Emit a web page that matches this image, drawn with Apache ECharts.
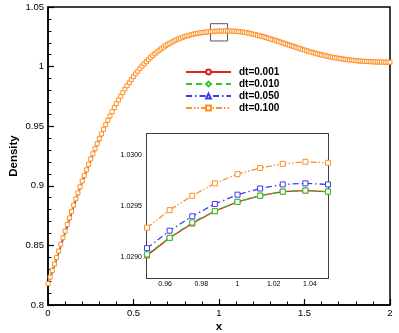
<!DOCTYPE html>
<html>
<head>
<meta charset="utf-8">
<script src="https://cdn.jsdelivr.net/npm/echarts@6.0.0/dist/echarts.min.js"></script>
<style>
  html, body {margin: 0; padding: 0; background: #fff;}
  #chart {width: 399px; height: 333px;}
</style>
</head>
<body>
<div id="chart"></div>
<script>
const names = ['dt=0.001', 'dt=0.010', 'dt=0.050', 'dt=0.100']
const colors = ['#dd2222', '#2ec62e', '#3c3cf0', '#ff8f24']

// dt=0.100 on the fine grid, x = 0 .. 2 step 0.0125 (8 points per row)
const dxFine = 0.0125
const rho100 = [
  0.8180, 0.8234, 0.8289, 0.8343, 0.8398, 0.8453, 0.8509, 0.8564, // 0.0
  0.8620, 0.8675, 0.8730, 0.8784, 0.8838, 0.8890, 0.8941, 0.8991, // 0.1
  0.9040, 0.9087, 0.9134, 0.9180, 0.9225, 0.9268, 0.9311, 0.9353, // 0.2
  0.9395, 0.9435, 0.9474, 0.9512, 0.9550, 0.9586, 0.9621, 0.9656, // 0.3
  0.9690, 0.9721, 0.9752, 0.9782, 0.9812, 0.9839, 0.9865, 0.9891, // 0.4
  0.9916, 0.9939, 0.9961, 0.9983, 1.0004, 1.0023, 1.0041, 1.0059, // 0.5
  1.0077, 1.0093, 1.0108, 1.0123, 1.0137, 1.0150, 1.0163, 1.0175, // 0.6
  1.0186, 1.0196, 1.0206, 1.0215, 1.0224, 1.0232, 1.0239, 1.0246, // 0.7
  1.0252, 1.0258, 1.0263, 1.0268, 1.0272, 1.0276, 1.0279, 1.0282, // 0.8
  1.02852, 1.02875, 1.02896, 1.02914, 1.02929, 1.02946, 1.02960, 1.02972, // 0.9
  1.02981, 1.02987, 1.02991, 1.02993, 1.02992, 1.02986, 1.02978, 1.02970, // 1.0
  1.02960, 1.0294, 1.0292, 1.0290, 1.0287, 1.0284, 1.0280, 1.0276, // 1.1
  1.0272, 1.0268, 1.0263, 1.0259, 1.0254, 1.0249, 1.0244, 1.0238, // 1.2
  1.0233, 1.0227, 1.0222, 1.0216, 1.0210, 1.0204, 1.0198, 1.0192, // 1.3
  1.0186, 1.0180, 1.0174, 1.0168, 1.0162, 1.0156, 1.0150, 1.0145, // 1.4
  1.0139, 1.0133, 1.0128, 1.0122, 1.0117, 1.0112, 1.0107, 1.0103, // 1.5
  1.0098, 1.0094, 1.0090, 1.0086, 1.0082, 1.0079, 1.0075, 1.0072, // 1.6
  1.0069, 1.0066, 1.0063, 1.0061, 1.0058, 1.0056, 1.0054, 1.0052, // 1.7
  1.0050, 1.0048, 1.0047, 1.0045, 1.0044, 1.0043, 1.0042, 1.0041, // 1.8
  1.0040, 1.0039, 1.0039, 1.0038, 1.0038, 1.0037, 1.0037, 1.0037, // 1.9
  1.0037,
]

// the other runs, hidden under the orange markers: x = 0 .. 2 step 0.05
const dxCoarse = 0.05
const rho001 = [
  0.8174, 0.8384, 0.8604, 0.8824, 0.9027, 0.9213, 0.9384, 0.9540, 0.9681, 0.9804,
  0.9909, 0.9998, 1.0072, 1.0132, 1.0181, 1.0220, 1.0248, 1.0268, 1.02824, 1.02902,
  1.02953, 1.02963, 1.0295, 1.0289, 1.0277, 1.0261, 1.0241, 1.0219, 1.0195, 1.0171,
  1.0147, 1.0125, 1.0105, 1.0088, 1.0074, 1.0063, 1.0054, 1.0047, 1.0042, 1.0039,
  1.0037,
]
const rho010 = [
  0.8175, 0.8385, 0.8605, 0.8825, 0.9028, 0.9214, 0.9385, 0.9541, 0.9682, 0.9805,
  0.9910, 0.9999, 1.0073, 1.0133, 1.0182, 1.0221, 1.0249, 1.0269, 1.02825, 1.02903,
  1.02954, 1.02964, 1.0295, 1.0289, 1.0277, 1.0261, 1.0241, 1.0219, 1.0195, 1.0171,
  1.0147, 1.0125, 1.0105, 1.0088, 1.0074, 1.0063, 1.0054, 1.0047, 1.0042, 1.0039,
  1.0037,
]
const rho050 = [
  0.8177, 0.8390, 0.8611, 0.8830, 0.9033, 0.9219, 0.9389, 0.9545, 0.9686, 0.9808,
  0.9913, 1.0001, 1.0075, 1.0135, 1.0184, 1.0222, 1.0250, 1.0270, 1.02833, 1.02909,
  1.02961, 1.02971, 1.0296, 1.0290, 1.0278, 1.0262, 1.0242, 1.0220, 1.0196, 1.0172,
  1.0148, 1.0126, 1.0106, 1.0089, 1.0075, 1.0063, 1.0054, 1.0047, 1.0042, 1.0039,
  1.0037,
]

// zoomed window
const xInset = [0.95, 0.9625, 0.975, 0.9875, 1, 1.0125, 1.025, 1.0375, 1.05]
const inset001 = [1.02902, 1.02919, 1.02933, 1.02945, 1.02954, 1.02960, 1.02964, 1.02965, 1.02964]
const inset010 = [1.02903, 1.02919, 1.02934, 1.02945, 1.02954, 1.02960, 1.02964, 1.02965, 1.02964]
const inset050 = [1.02909, 1.02926, 1.02940, 1.02952, 1.02961, 1.02967, 1.02971, 1.02972, 1.02971]
const inset100 = [1.02929, 1.02946, 1.02960, 1.02972, 1.02981, 1.02987, 1.02991, 1.02993, 1.02992]

const insetXTicks = [0.96, 0.98, 1, 1.02, 1.04]
const insetXMinor = [0.955, 0.96, 0.965, 0.97, 0.975, 0.98, 0.985, 0.99, 0.995, 1,
  1.005, 1.01, 1.015, 1.02, 1.025, 1.03, 1.035, 1.04, 1.045]
const insetYTicks = [1.029, 1.0295, 1.03]
const insetYMinor = [1.0289, 1.029, 1.0291, 1.0292, 1.0293, 1.0294, 1.0295, 1.0296,
  1.0297, 1.0298, 1.0299, 1.03, 1.0301]

// rectangle in the main plot marking the zoomed window
const zoomBox = {x0: 0.95, x1: 1.05, y0: 1.0215, y1: 1.036}

const font = "'Liberation Sans', Arial, sans-serif"
const dashes = ['solid', [6, 4], [6, 3, 1.5, 3], [6, 2, 1.5, 2, 1.5, 2]]
const mainSymbols = ['circle', 'diamond', 'triangle', 'rect']

const pairs = (ys, step) => ys.map((y, i) => [+(i * step).toFixed(4), y])
const insetPairs = ys => ys.map((y, i) => [xInset[i], y])

const mainData = [
  pairs(rho001, dxCoarse),
  pairs(rho010, dxCoarse),
  pairs(rho050, dxCoarse),
  pairs(rho100, dxFine),
]
const insetData = [inset001, inset010, inset050, inset100].map(insetPairs)

const chart = echarts.init(document.getElementById('chart'), null, {renderer: 'canvas'})

const black = '#000'
const mainTicks = {
  axisLine: {show: true, lineStyle: {color: black, width: 1.5}},
  axisTick: {show: true, inside: true, length: 6, lineStyle: {color: black, width: 1.2}},
  minorTick: {show: true, splitNumber: 5, length: 3.5, lineStyle: {color: black, width: 1}},
  axisLabel: {color: black, fontSize: 9.5, fontFamily: font},
  splitLine: {show: false},
  nameMoveOverlap: false,
  nameTextStyle: {color: black, fontSize: 11.5, fontWeight: 'bold', fontFamily: font},
}

/** axis of the inset: major ticks + labels, or minor ticks only */
function insetAxis(grid, position, min, max, ticks, minor, withLabel, fmt) {
  return {
    type: 'value',
    gridIndex: grid,
    position,
    min,
    max,
    axisLine: {show: !minor, lineStyle: {color: black, width: 1.5}},
    axisTick: {
      show: true,
      inside: true,
      length: minor ? 2.5 : 4.5,
      customValues: ticks,
      lineStyle: {color: black, width: 1},
    },
    axisLabel: {
      show: withLabel,
      customValues: ticks,
      color: black,
      fontSize: 7,
      fontFamily: font,
      margin: position === 'left' ? 5 : 3,
      formatter: fmt,
    },
    splitLine: {show: false},
  }
}

const series = []
names.forEach((n, i) => {
  const s = {
    name: n,
    type: 'line',
    xAxisIndex: 0,
    yAxisIndex: 0,
    data: mainData[i],
    symbol: mainSymbols[i],
    symbolSize: 4,
    showSymbol: i === 3,
    smooth: i !== 3,
    lineStyle: {color: colors[i], width: 1.5, type: dashes[i]},
    itemStyle: {color: '#fff', borderColor: colors[i], borderWidth: 1},
    emphasis: {disabled: true},
    z: 2 + i,
  }
  if (i === 3) {
    s.markArea = {
      silent: true,
      itemStyle: {color: 'rgba(0,0,0,0)', borderColor: '#555', borderWidth: 1},
      data: [[{xAxis: zoomBox.x0, yAxis: zoomBox.y0}, {xAxis: zoomBox.x1, yAxis: zoomBox.y1}]],
    }
  }
  series.push(s)
})
names.forEach((n, i) => {
  series.push({
    name: n,
    type: 'line',
    xAxisIndex: 1,
    yAxisIndex: 1,
    data: insetData[i],
    symbol: 'rect',
    symbolSize: 5,
    showSymbol: true,
    lineStyle: {color: colors[i], width: 1.3, type: dashes[i]},
    itemStyle: {color: '#fff', borderColor: colors[i], borderWidth: 1},
    emphasis: {disabled: true},
    z: 10 + i,
  })
})

const option = {
  animation: false,
  backgroundColor: '#fff',
  textStyle: {fontFamily: font},
  grid: [
    {left: 48, top: 7, right: 9, bottom: 28, show: true, borderColor: black, borderWidth: 1.5, outerBoundsMode: 'none'},
    {left: 147, top: 134, width: 181, height: 144, show: true, backgroundColor: '#fff', borderWidth: 0, z: 5, outerBoundsMode: 'none'},
    {left: 147, top: 134, width: 181, height: 144, show: false, outerBoundsMode: 'none'},
  ],
  legend: {
    data: names,
    orient: 'vertical',
    left: 180,
    top: 62,
    itemWidth: 45,
    itemHeight: 6,
    itemGap: 2,
    selectedMode: false,
    textStyle: {color: black, fontSize: 10, fontWeight: 'bold', fontFamily: font, padding: [0, 0, 0, 3]},
  },
  xAxis: [
    {
      type: 'value', gridIndex: 0, min: 0, max: 2, interval: 0.5,
      name: 'x', nameLocation: 'middle', nameGap: 16,
      ...mainTicks,
      axisLabel: {...mainTicks.axisLabel, margin: 3},
    },
    insetAxis(1, 'bottom', 0.95, 1.05, insetXTicks, false, true, v => `${+v.toFixed(2)}`),
    insetAxis(1, 'top', 0.95, 1.05, insetXTicks, false, false),
    insetAxis(2, 'bottom', 0.95, 1.05, insetXMinor, true, false),
    insetAxis(2, 'top', 0.95, 1.05, insetXMinor, true, false),
  ],
  yAxis: [
    {
      type: 'value', gridIndex: 0, min: 0.8, max: 1.05, interval: 0.05,
      name: 'Density', nameLocation: 'middle', nameGap: 28.5,
      ...mainTicks,
      axisLabel: {...mainTicks.axisLabel, margin: 4},
    },
    insetAxis(1, 'left', 1.0288, 1.0302, insetYTicks, false, true, v => v.toFixed(4)),
    insetAxis(1, 'right', 1.0288, 1.0302, insetYTicks, false, false),
    insetAxis(2, 'left', 1.0288, 1.0302, insetYMinor, true, false),
    insetAxis(2, 'right', 1.0288, 1.0302, insetYMinor, true, false),
  ],
  series,
}

chart.setOption(option)
</script>
</body>
</html>
